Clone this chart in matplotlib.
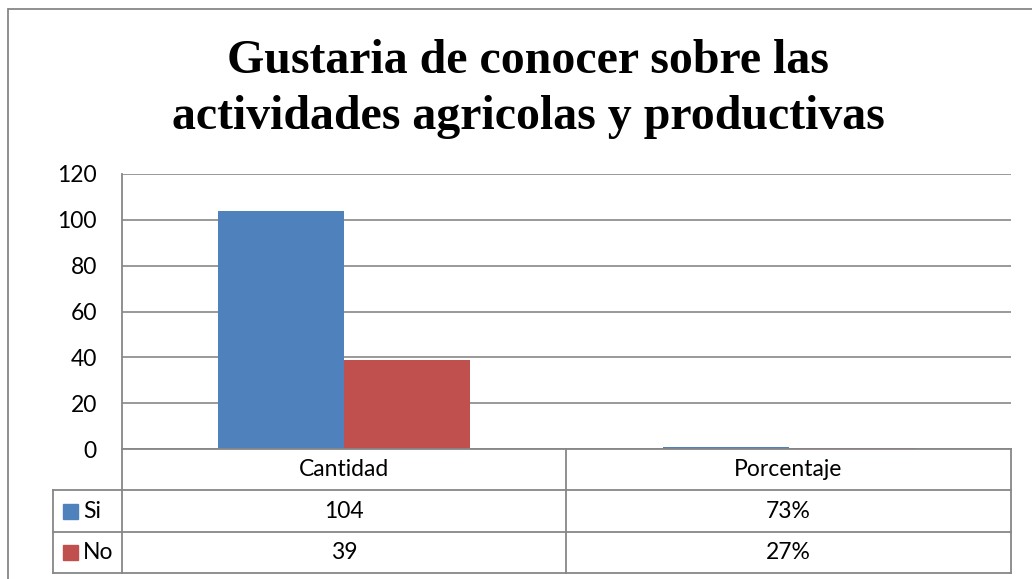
import matplotlib
matplotlib.use("Agg")
import matplotlib.pyplot as plt
from matplotlib.lines import Line2D

# data
categories = ["Cantidad", "Porcentaje"]
series = ["Si", "No"]
si_values = [104, 0.73]
no_values = [39, 0.27]
table_rows = [["104", "73%"], ["39", "27%"]]
title = "Gustaria de conocer sobre las\nactividades agricolas y productivas"
colors = ["#4F81BD", "#C0504D"]
grid_col = "#878787"

W, H = 1032, 579
fig = plt.figure(figsize=(W / 100, H / 100), dpi=100)

def fx(px):
    return px / W

def fy(py):
    return 1 - py / H

def hline(x0, x1, y, **kw):
    fig.add_artist(Line2D([fx(x0), fx(x1)], [fy(y), fy(y)], color=grid_col, lw=1.3, **kw))

def vline(x, y0, y1, **kw):
    fig.add_artist(Line2D([fx(x), fx(x)], [fy(y0), fy(y1)], color=grid_col, lw=1.3, **kw))

left, right, top, bottom = 122, 1011, 174, 449
ax = fig.add_axes([fx(left), fy(bottom), fx(right - left), (bottom - top) / H])

x = [0.5, 1.5]
w = 0.284
ax.bar([v - w / 2 for v in x], si_values, w, color=colors[0], zorder=3)
ax.bar([v + w / 2 for v in x], no_values, w, color=colors[1], zorder=3)
ax.set_xlim(0, 2)
ax.set_ylim(0, 120)
ax.set_yticks(range(0, 121, 20))
ax.set_xticks([])
ax.yaxis.grid(True, color=grid_col, lw=1.2, zorder=0)
for s in ["top", "right", "bottom"]:
    ax.spines[s].set_visible(False)
ax.spines["left"].set_color(grid_col)
ax.spines["left"].set_linewidth(1.3)
ax.tick_params(axis="y", length=0, pad=18, labelsize=16.5)
for lab in ax.get_yticklabels():
    lab.set_fontfamily("Lato")

# title
fig.text(fx(528), fy(89), title, ha="center", va="center", fontsize=34.5,
         fontweight="bold", family="Liberation Serif", linespacing=1.37)

# outer border of chart
hline(8, W, 9, solid_capstyle="butt")
vline(8, 9, H)

# data table
col_div = 566
rows_y = [449, 490, 532, 573]
hline(left, right, rows_y[0])
for yy in rows_y[1:]:
    hline(53, right, yy)
vline(left, rows_y[0], rows_y[-1])
vline(col_div, rows_y[0], rows_y[-1])
vline(right, rows_y[0], rows_y[-1])
vline(53, rows_y[1], rows_y[-1])

fs = 16.5
col_centers = [(left + col_div) / 2, (col_div + right) / 2]
for cx, cat in zip(col_centers, categories):
    fig.text(fx(cx), fy((rows_y[0] + rows_y[1]) / 2), cat, ha="center", va="center",
             fontsize=fs, family="Lato")
for i, (name, row) in enumerate(zip(series, table_rows)):
    cy = (rows_y[i + 1] + rows_y[i + 2]) / 2
    fig.patches.append(plt.Rectangle((fx(63), fy(cy + 7.5)), 15 / W, 15 / H,
                                     color=colors[i], transform=fig.transFigure))
    fig.text(fx(83), fy(cy), name, ha="left", va="center", fontsize=fs, family="Lato")
    for cx, val in zip(col_centers, row):
        fig.text(fx(cx), fy(cy), val, ha="center", va="center", fontsize=fs, family="Lato")

fig.savefig("out.png", dpi=100)
